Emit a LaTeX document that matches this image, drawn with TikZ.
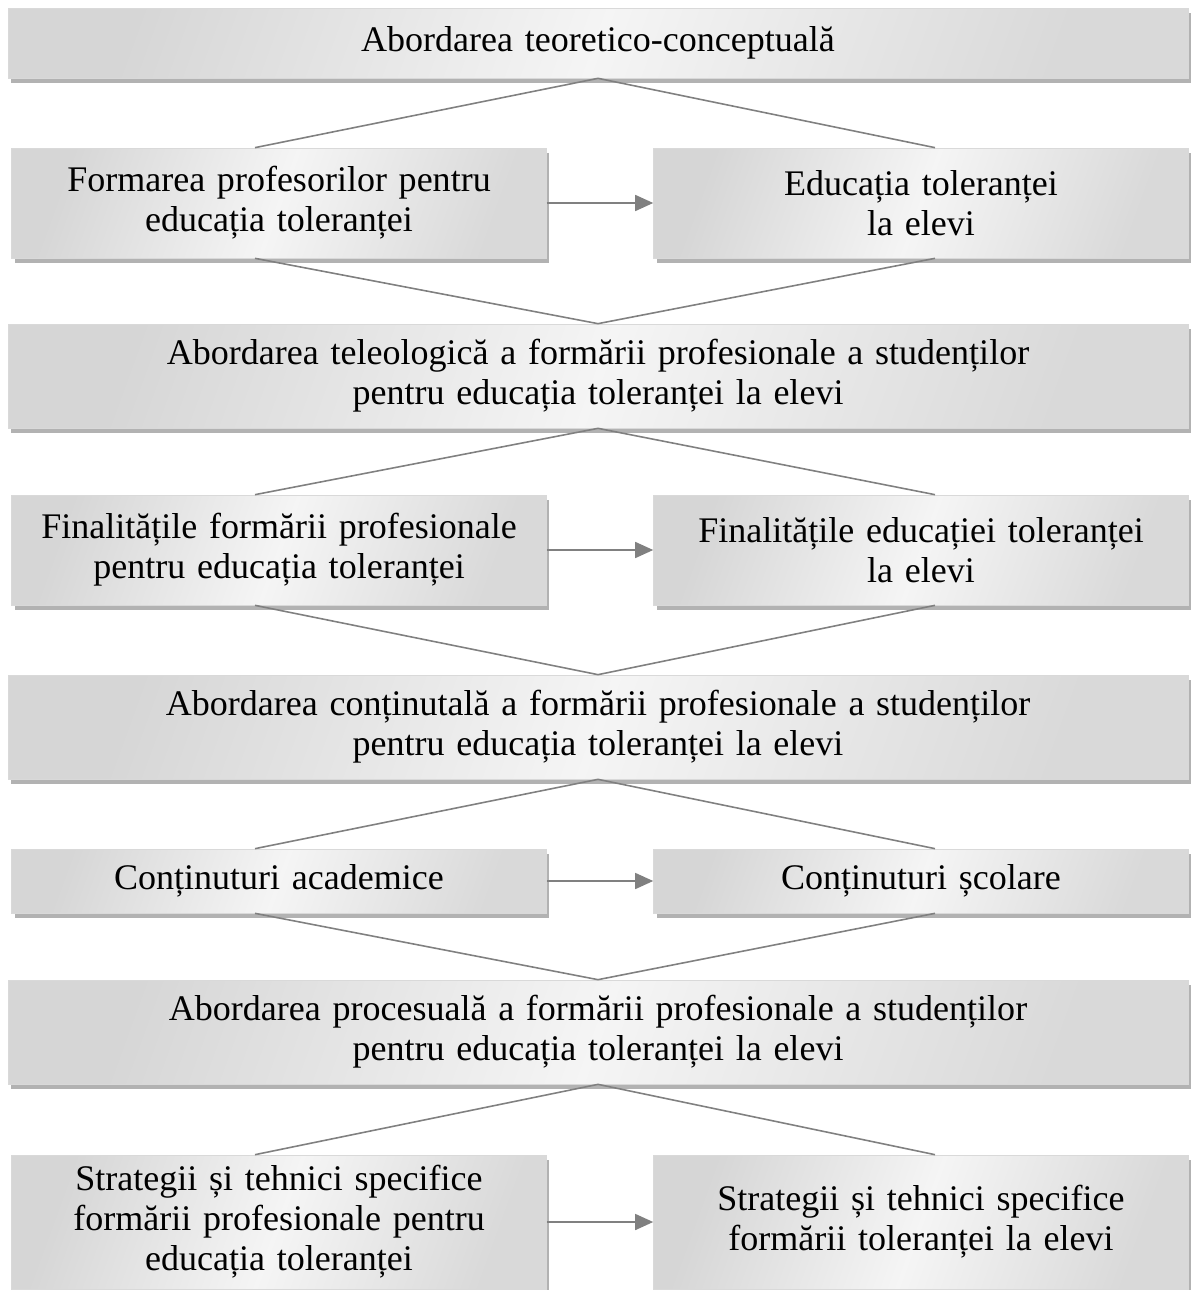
\documentclass[tikz,border=0pt]{standalone}
\usepackage{fontspec}
\setmainfont{Liberation Serif}[WordSpace=1.3]
\usetikzlibrary{shadows, arrows.meta}

\begin{document}
\begin{tikzpicture}[x=0.02cm, y=-0.02cm,
	box/.style={rectangle, draw=gray!30, line width=0.4pt,
		left color=gray!32, right color=gray!30, middle color=gray!8,
		shading angle=70, align=center, inner sep=0pt,
		font=\fontsize{20.5pt}{22.8pt}\selectfont,
		drop shadow={shadow xshift=0.06cm, shadow yshift=-0.1cm,
			fill=gray!60, opacity=1}},
	wide/.style={box, minimum width=23.6cm},
	half/.style={box, minimum width=10.7cm},
	link/.style={draw=gray, line width=0.9pt},
	flow/.style={link, -{Triangle[length=0.36cm, width=0.32cm]}, fill=gray}]
\useasboundingbox (0,0) rectangle (1190,1290);

% boxes
\node[wide, minimum height=1.4cm] (teor) at (598,43) {Abordarea teoretico-conceptuală};
\node[half, minimum height=2.2cm] (formProf) at (279,203) {Formarea profesorilor pentru\\educația toleranței};
\node[half, minimum height=2.2cm] (eduElev) at (921,203) {Educația toleranței\\la elevi};
\node[wide, minimum height=2.08cm] (teleo) at (598,376) {Abordarea teleologică a formării profesionale a studenților\\pentru educația toleranței la elevi};
\node[half, minimum height=2.2cm] (finProf) at (279,550) {Finalitățile formării profesionale\\pentru educația toleranței};
\node[half, minimum height=2.2cm] (finElev) at (921,550) {Finalitățile educației toleranței\\la elevi};
\node[wide, minimum height=2.08cm] (contin) at (598,727) {Abordarea conținutală a formării profesionale a studenților\\pentru educația toleranței la elevi};
\node[half, minimum height=1.28cm] (contAcad) at (279,881) {Conținuturi academice};
\node[half, minimum height=1.28cm] (contScol) at (921,881) {Conținuturi școlare};
\node[wide, minimum height=2.08cm] (proces) at (598,1032) {Abordarea procesuală a formării profesionale a studenților\\pentru educația toleranței la elevi};
\node[half, minimum height=2.68cm] (stratProf) at (279,1222) {Strategii și tehnici specifice\\formării profesionale pentru\\educația toleranței};
\node[half, minimum height=2.68cm] (stratElev) at (921,1222) {Strategii și tehnici specifice\\formării toleranței la elevi};

% diamonds
\draw[link] ([xshift=-0.48cm]formProf.north) -- (teor.south) -- ([xshift=0.28cm]eduElev.north);
\draw[link] ([xshift=-0.48cm]formProf.south) -- (teleo.north) -- ([xshift=0.28cm]eduElev.south);
\draw[link] ([xshift=-0.48cm]finProf.north) -- (teleo.south) -- ([xshift=0.28cm]finElev.north);
\draw[link] ([xshift=-0.48cm]finProf.south) -- (contin.north) -- ([xshift=0.28cm]finElev.south);
\draw[link] ([xshift=-0.48cm]contAcad.north) -- (contin.south) -- ([xshift=0.28cm]contScol.north);
\draw[link] ([xshift=-0.48cm]contAcad.south) -- (proces.north) -- ([xshift=0.28cm]contScol.south);
\draw[link] ([xshift=-0.48cm]stratProf.north) -- (proces.south) -- ([xshift=0.28cm]stratElev.north);

% arrows
\draw[flow] (formProf) -- (eduElev);
\draw[flow] (finProf) -- (finElev);
\draw[flow] (contAcad) -- (contScol);
\draw[flow] (stratProf) -- (stratElev);
\end{tikzpicture}
\end{document}
